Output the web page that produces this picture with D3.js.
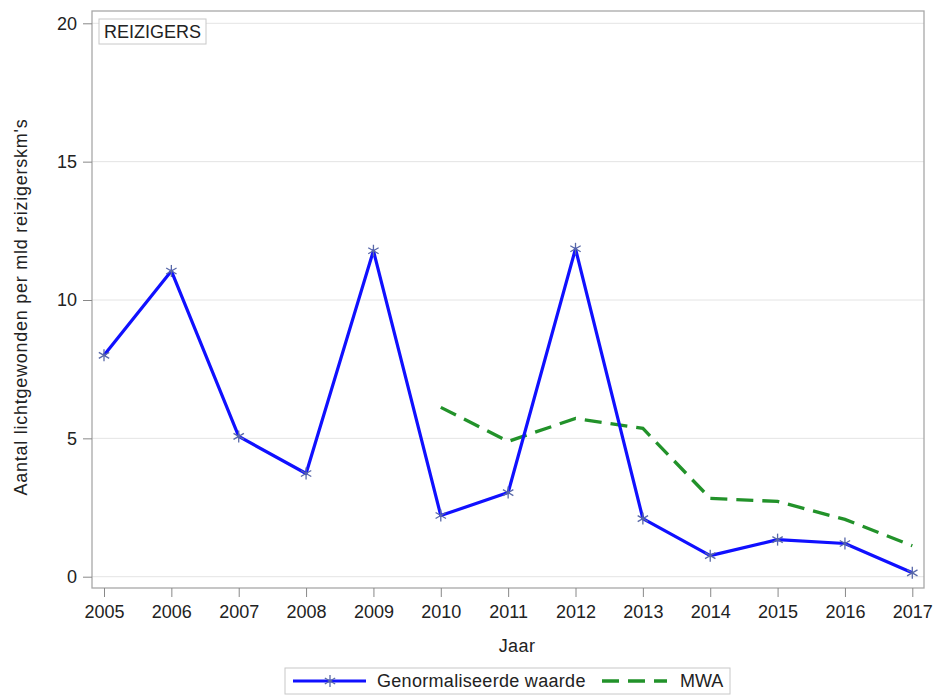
<!DOCTYPE html>
<html><head><meta charset="utf-8">
<script src="https://cdn.jsdelivr.net/npm/d3@7"></script>
<style>body{margin:0;background:#fff;} text{font-family:"Liberation Sans",Arial,sans-serif;fill:#222;}</style>
</head><body>
<svg id="c" width="941" height="695"></svg>
<script>
const years = [2005,2006,2007,2008,2009,2010,2011,2012,2013,2014,2015,2016,2017];
const genormaliseerd = [8.0,11.05,5.07,3.73,11.78,2.21,3.04,11.85,2.1,0.76,1.34,1.2,0.14];
const mwaYears = [2010,2011,2012,2013,2014,2015,2016,2017];
const mwa = [6.12,4.89,5.72,5.36,2.83,2.72,2.07,1.12];
const yTicks = [0,5,10,15,20];
const panelLabel = "REIZIGERS";
const yTitle = "Aantal lichtgewonden per mld reizigerskm's";
const xTitle = "Jaar";
const legendLabels = ["Genormaliseerde waarde","MWA"];

const svg = d3.select("#c");
const fx0=92, fx1=924, fy0=11, fy1=588;
const x = d3.scaleLinear().domain([2005,2017]).range([104,912.3]);
const y = d3.scaleLinear().domain([0,20]).range([576.7,23.3]);
const fs = 18;

// grid
svg.append("g").selectAll("line").data(yTicks).join("line")
  .attr("x1",fx0).attr("x2",fx1).attr("y1",d=>y(d)).attr("y2",d=>y(d))
  .attr("stroke","#e4e4e4").attr("stroke-width",1);

// frame
svg.append("rect").attr("x",fx0).attr("y",fy0).attr("width",fx1-fx0).attr("height",fy1-fy0)
  .attr("fill","none").attr("stroke","#a8a8a8").attr("stroke-width",1.3);

// y axis
const ya = svg.append("g").attr("transform",`translate(${fx0},0)`)
  .call(d3.axisLeft(y).tickValues(yTicks).tickSize(9).tickPadding(6).tickFormat(d3.format("d")));
ya.select(".domain").remove();
ya.selectAll("line").attr("stroke","#888");
ya.selectAll("text").attr("font-size",fs).attr("fill","#222").style("font-family","Liberation Sans, Arial, sans-serif");

// x axis
const xa = svg.append("g").attr("transform",`translate(0,${fy1})`)
  .call(d3.axisBottom(x).tickValues(years).tickSize(9).tickPadding(8).tickFormat(d3.format("d")));
xa.select(".domain").remove();
xa.selectAll("line").attr("stroke","#888");
xa.selectAll("text").attr("font-size",fs).attr("fill","#222").style("font-family","Liberation Sans, Arial, sans-serif");

// titles
svg.append("text").attr("x",517).attr("y",652).attr("text-anchor","middle").attr("font-size",fs).attr("letter-spacing",0.4).text(xTitle);
svg.append("text").attr("transform","translate(27,307) rotate(-90)").attr("text-anchor","middle").attr("font-size",fs).attr("letter-spacing",0.75).text(yTitle);

// panel label
svg.append("rect").attr("x",99).attr("y",19).attr("width",107).attr("height",25).attr("fill","#fff").attr("stroke","#c8c8c8");
svg.append("text").attr("x",152.5).attr("y",38).attr("text-anchor","middle").attr("font-size",fs).text(panelLabel);

// lines
const line = d3.line().x(d=>x(d[0])).y(d=>y(d[1]));
const green = "#22922a", blue = "#1010ff", mk = "#5868a8";
svg.append("path").datum(mwaYears.map((d,i)=>[d,mwa[i]])).attr("d",line)
  .attr("fill","none").attr("stroke",green).attr("stroke-width",3.3).attr("stroke-dasharray","17,9");
svg.append("path").datum(years.map((d,i)=>[d,genormaliseerd[i]])).attr("d",line)
  .attr("fill","none").attr("stroke",blue).attr("stroke-width",3.2).attr("stroke-linejoin","round");

function star(g,cx,cy,r){
  const s = g.append("g").attr("transform",`translate(${cx},${cy})`).attr("stroke",mk).attr("stroke-width",1.3);
  s.append("line").attr("x1",0).attr("x2",0).attr("y1",-r).attr("y2",r);
  const a=r*Math.cos(Math.PI/6), b=r*Math.sin(Math.PI/6);
  s.append("line").attr("x1",-a).attr("x2",a).attr("y1",-b).attr("y2",b);
  s.append("line").attr("x1",-a).attr("x2",a).attr("y1",b).attr("y2",-b);
}
const mg = svg.append("g");
years.forEach((d,i)=>star(mg,x(d),y(genormaliseerd[i]),6));

// legend
svg.append("rect").attr("x",285).attr("y",668).attr("width",445).attr("height",26).attr("fill","#fff").attr("stroke","#c8c8c8");
svg.append("line").attr("x1",293).attr("x2",366).attr("y1",681).attr("y2",681).attr("stroke",blue).attr("stroke-width",3.2);
star(svg,330,681,6);
svg.append("text").attr("x",377).attr("y",687).attr("font-size",fs).attr("letter-spacing",0.3).text(legendLabels[0]);
svg.append("line").attr("x1",602).attr("x2",667).attr("y1",681).attr("y2",681).attr("stroke",green).attr("stroke-width",3.3).attr("stroke-dasharray","17,9");
svg.append("text").attr("x",680).attr("y",687).attr("font-size",fs).text(legendLabels[1]);
</script>
</body></html>
